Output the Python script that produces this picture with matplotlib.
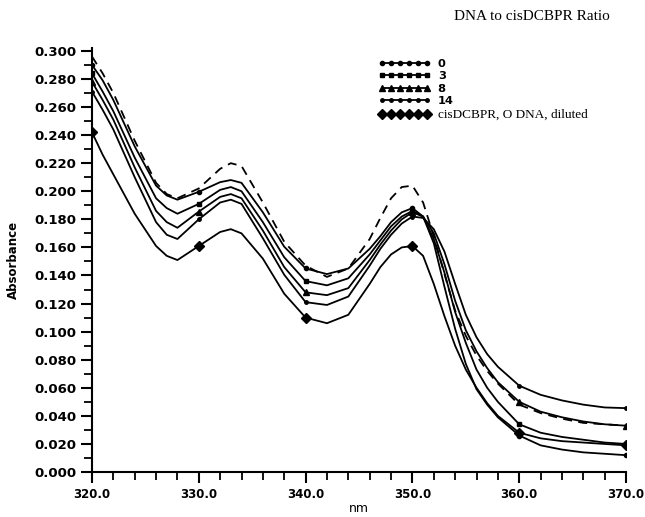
import numpy as np
import matplotlib
matplotlib.use("Agg")
import matplotlib.pyplot as plt
from matplotlib.ticker import MultipleLocator, FormatStrFormatter

# wavelengths (nm)
nm = [320, 321, 322, 324, 326, 327, 328, 330, 332, 333, 334, 336, 338, 340, 342, 344,
      346, 347, 348, 349, 350, 351, 352, 353, 354, 355, 356, 357, 358, 360, 362, 364,
      366, 368, 370]

# absorbance, DNA to cisDCBPR ratio 0
r0 = [0.290, 0.279, 0.265, 0.232, 0.204, 0.197, 0.194, 0.1996, 0.2065, 0.208, 0.206, 0.185,
      0.1605, 0.145, 0.141, 0.145, 0.159, 0.168, 0.178, 0.185, 0.188, 0.182, 0.163, 0.132,
      0.102, 0.077, 0.059, 0.048, 0.039, 0.026, 0.019, 0.016, 0.014, 0.013, 0.012]
# ratio 3
r3 = [0.284, 0.271, 0.257, 0.224, 0.195, 0.188, 0.184, 0.191, 0.201, 0.203, 0.200, 0.178,
      0.153, 0.136, 0.133, 0.138, 0.155, 0.165, 0.175, 0.182, 0.186, 0.182, 0.166, 0.142,
      0.114, 0.092, 0.073, 0.060, 0.050, 0.034, 0.028, 0.025, 0.023, 0.021, 0.020]
# ratio 8
r8 = [0.278, 0.265, 0.251, 0.217, 0.186, 0.178, 0.174, 0.1855, 0.196, 0.198, 0.195, 0.172,
      0.146, 0.128, 0.126, 0.131, 0.151, 0.162, 0.172, 0.180, 0.185, 0.182, 0.170, 0.148,
      0.122, 0.101, 0.086, 0.074, 0.064, 0.050, 0.043, 0.039, 0.036, 0.034, 0.033]
# ratio 14
r14 = [0.271, 0.258, 0.244, 0.210, 0.178, 0.169, 0.166, 0.180, 0.192, 0.194, 0.191, 0.1665,
       0.1405, 0.121, 0.119, 0.125, 0.147, 0.159, 0.169, 0.177, 0.182, 0.181, 0.173, 0.157,
       0.134, 0.112, 0.096, 0.084, 0.075, 0.0615, 0.055, 0.051, 0.048, 0.046, 0.0455]
# cisDCBPR, 0 DNA, diluted
dil = [0.242, 0.226, 0.212, 0.184, 0.161, 0.154, 0.151, 0.161, 0.171, 0.173, 0.170, 0.152,
       0.127, 0.110, 0.106, 0.112, 0.134, 0.146, 0.155, 0.160, 0.161, 0.154, 0.134, 0.111,
       0.090, 0.073, 0.060, 0.049, 0.040, 0.028, 0.024, 0.022, 0.021, 0.020, 0.019]
# dashed reference curve (not in legend)
ref = [0.296, 0.284, 0.270, 0.236, 0.206, 0.198, 0.195, 0.202, 0.216, 0.220, 0.218, 0.192,
       0.164, 0.147, 0.139, 0.145, 0.166, 0.181, 0.195, 0.203, 0.204, 0.192, 0.168, 0.141,
       0.115, 0.097, 0.083, 0.072, 0.063, 0.048, 0.042, 0.038, 0.035, 0.034, 0.033]

labels = ["0", "3", "8", "14", "cisDCBPR, O DNA, diluted"]

fig = plt.figure(figsize=(6.45, 5.17), dpi=100)
ax = fig.add_axes([0.1426, 0.087, 0.828, 0.820])

marks = [i for i, w in enumerate(nm) if w % 10 == 0]

ax.plot(nm, r0, color="black", lw=1.3, marker="o", ms=3, markevery=marks, label=labels[0])
ax.plot(nm, r3, color="black", lw=1.3, marker="s", ms=3, markevery=marks, label=labels[1])
ax.plot(nm, r8, color="black", lw=1.3, marker="^", ms=4, markevery=marks, label=labels[2])
ax.plot(nm, r14, color="black", lw=1.3, marker="o", ms=2.5, markevery=marks, label=labels[3])
ax.plot(nm, dil, color="black", lw=1.3, marker="D", ms=5.5, markevery=marks, label=labels[4])
ax.plot(nm, ref, color="black", lw=1.3, ls=(0, (5, 3.5)))

ax.set_xlim(320, 370)
ax.set_ylim(0, 0.302)
ax.spines["top"].set_visible(False)
ax.spines["right"].set_visible(False)
ax.spines["left"].set_linewidth(1.5)
ax.spines["bottom"].set_linewidth(1.5)

ax.xaxis.set_major_locator(MultipleLocator(10))
ax.xaxis.set_minor_locator(MultipleLocator(2))
ax.yaxis.set_major_locator(MultipleLocator(0.02))
ax.yaxis.set_minor_locator(MultipleLocator(0.01))
ax.xaxis.set_major_formatter(FormatStrFormatter("%.1f"))
ax.yaxis.set_major_formatter(FormatStrFormatter("%.3f"))
ax.tick_params(which="major", direction="out", length=8, width=1.5)
ax.tick_params(which="minor", direction="out", length=6, width=1.3)
ax.tick_params(axis="y", labelsize=9.5)
ax.tick_params(axis="x", labelsize=8.5)
for t in ax.get_xticklabels() + ax.get_yticklabels():
    t.set_fontweight("bold")

ax.set_xlabel("nm", fontsize=9, labelpad=1)
ax.set_ylabel("Absorbance", fontsize=8.5, fontweight="bold", labelpad=10)

leg = ax.legend(loc="upper left", bbox_to_anchor=(0.578, 0.897), bbox_transform=fig.transFigure,
                frameon=False, numpoints=6, handlelength=4.6, handletextpad=0.6,
                labelspacing=0.22, fontsize=8.2, borderpad=0)
for i, t in enumerate(leg.get_texts()):
    if i < 4:
        t.set_fontweight("bold")
    else:
        t.set_family("Liberation Serif")
        t.set_fontsize(9.5)

fig.text(0.825, 0.968, "DNA to cisDCBPR Ratio", family="Liberation Serif", fontsize=11,
         ha="center", va="center")

fig.savefig("out.png", dpi=100)
